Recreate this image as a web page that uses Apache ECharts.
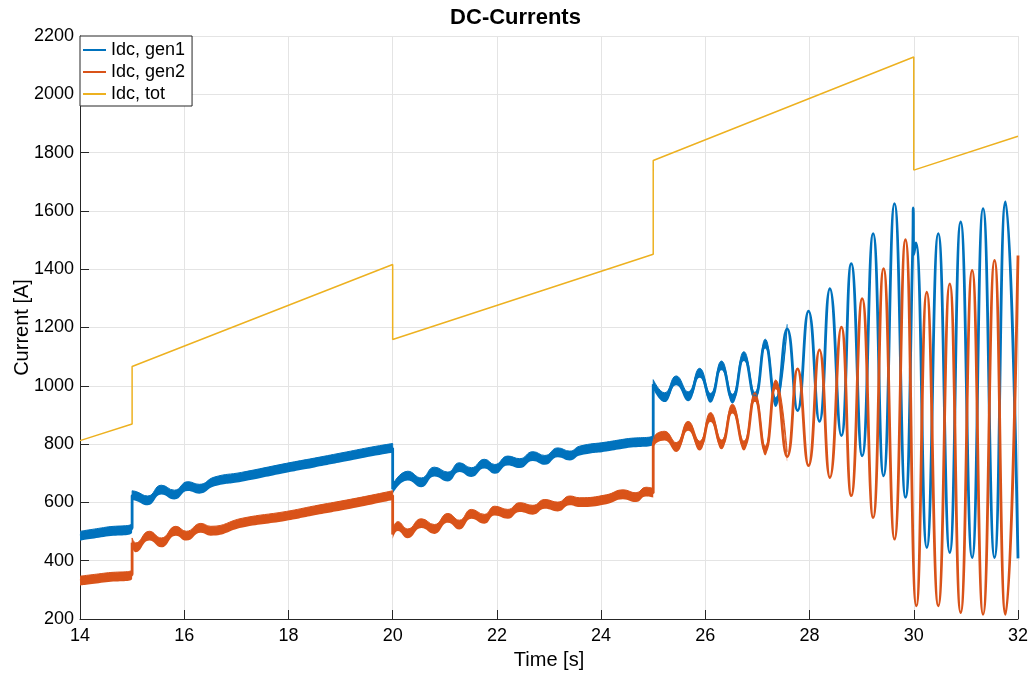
<!DOCTYPE html>
<html>
<head>
<meta charset="utf-8">
<script src="https://cdn.jsdelivr.net/npm/echarts@6/dist/echarts.min.js"></script>
<style>html,body{margin:0;padding:0;background:#fff}#c{width:1031px;height:675px}</style>
</head>
<body>
<div id="c"></div>
<script>
// ---- data (time [s], current [A]) ----
const seriesNames = ['Idc, gen1', 'Idc, gen2', 'Idc, tot'];

const gen1 = [
  [14, 485], [14.5, 499], [15, 514], [15, 624], [15.08, 621], [15.30, 606], [15.56, 643], [15.81, 626],
  [16.07, 655], [16.29, 646], [16.58, 671], [17.1, 687], [17.96, 718], [18.5, 736], [19.11, 757],
  [19.6, 774], [20, 786], [20, 645], [20.29, 691], [20.55, 668], [20.80, 705], [21.06, 688],
  [21.28, 720], [21.51, 703], [21.76, 732], [21.96, 714], [22.21, 743], [22.44, 734], [22.69, 758],
  [22.92, 745], [23.17, 771], [23.40, 760], [23.59, 777], [24.10, 791], [24.48, 802], [25, 816],
  [25, 1005], [25.22, 960], [25.44, 1018], [25.67, 963], [25.89, 1044], [26.10, 958], [26.31, 1069],
  [26.52, 955], [26.74, 1101], [26.95, 961], [27.15, 1144], [27.35, 943], [27.57, 1195], [27.77, 915],
  [27.98, 1256], [28.19, 878], [28.39, 1333], [28.61, 829], [28.80, 1419], [29.01, 760], [29.22, 1522],
  [29.42, 691], [29.63, 1625], [29.84, 617], [29.98, 1470], [29.99, 1610], [30.0, 1450], [30.04, 1490],
  [30.25, 445], [30.47, 1522], [30.69, 428], [30.90, 1562], [31.12, 411], [31.33, 1608], [31.55, 411],
  [31.76, 1631], [32.0, 408]
];

const gen2 = [
  [14, 331], [14.5, 342], [15, 354], [15, 462], [15.07, 445], [15.33, 485], [15.56, 462], [15.84, 502],
  [16.04, 485], [16.32, 512], [16.51, 502], [17.12, 530], [17.96, 553], [18.5, 572], [19.11, 592],
  [19.6, 609], [20, 624], [20, 490], [20.10, 518], [20.29, 493], [20.55, 528], [20.80, 508],
  [21.06, 546], [21.28, 523], [21.51, 560], [21.76, 543], [21.96, 571], [22.21, 560], [22.44, 583],
  [22.69, 574], [22.92, 594], [23.17, 585], [23.40, 606], [23.59, 600], [24.10, 610], [24.42, 627],
  [24.67, 617], [24.86, 636], [25, 632], [25, 795], [25.22, 828], [25.44, 789], [25.67, 862],
  [25.89, 794], [26.10, 892], [26.31, 798], [26.52, 921], [26.74, 794], [26.95, 961], [27.15, 777],
  [27.35, 1004], [27.57, 757], [27.77, 1058], [27.98, 726], [28.19, 1123], [28.39, 685], [28.61, 1201],
  [28.80, 623], [29.01, 1299], [29.22, 548], [29.42, 1402], [29.63, 474], [29.84, 1501], [30.05, 245],
  [30.25, 1321], [30.47, 245], [30.69, 1350], [30.90, 222], [31.12, 1396], [31.33, 216], [31.55, 1430],
  [31.76, 216], [32.0, 1447]
];

const tot = [
  [14, 812], [15, 869], [15, 1066], [20, 1416], [20, 1159], [25, 1451], [25, 1773],
  [30, 2128], [30, 1740], [32, 1856]
];

const xTicks = { min: 14, max: 32, interval: 2 };
const yTicks = { min: 200, max: 2200, interval: 200 };

// ---- style ----
const BLUE = '#0072BD', ORANGE = '#D95319', YELLOW = '#EDB120';
const AXIS = '#262626', GRID = '#e4e4e4';
const FONT = '"Liberation Sans", Arial, Helvetica, sans-serif';
const HALF = 16;        // half thickness of the ripple band (A)
const BAND_END = 27.6;  // band drawn up to this time
const SMOOTH = 0.5;

// band = lower edge + stacked thickness; columns [value, time] so the stack is on y
function band(data, color, id) {
  const part = data.filter(p => p[0] <= BAND_END);
  return [
    { type: 'line', name: id + '_lo', stack: id, encode: { x: 1, y: 0 },
      data: part.map(p => [p[1] - HALF, p[0]]),
      smooth: SMOOTH, showSymbol: false, silent: true, lineStyle: { width: 0, opacity: 0 } },
    { type: 'line', name: id + '_band', stack: id, encode: { x: 1, y: 0 },
      data: part.map(p => [2 * HALF, p[0]]),
      smooth: SMOOTH, showSymbol: false, silent: true, lineStyle: { width: 1, color: color },
      areaStyle: { color: color, opacity: 1 } }
  ];
}
function centre(data, color, name, w, smooth) {
  return { type: 'line', name: name, data: data, smooth: smooth, showSymbol: false,
    color: color, lineStyle: { width: w, color: color }, silent: true };
}

const chart = echarts.init(document.getElementById('c'), null, { renderer: 'canvas' });
chart.setOption({
  animation: false,
  backgroundColor: '#fff',
  textStyle: { fontFamily: FONT },
  title: {
    text: 'DC-Currents', left: 'center', top: 7, padding: 0,
    textStyle: { fontFamily: FONT, fontWeight: 'bold', fontSize: 22, color: '#000' }
  },
  legend: {
    data: seriesNames.map((n, i) => ({ name: n, itemStyle: { color: [BLUE, ORANGE, YELLOW][i] } })),
    orient: 'vertical', left: 80, top: 36,
    backgroundColor: '#fff', borderColor: AXIS, borderWidth: 1, borderRadius: 0,
    padding: [4, 7, 2, 3], itemGap: 2, itemWidth: 23, itemHeight: 2, icon: 'rect',
    textStyle: { fontFamily: FONT, fontSize: 18, color: '#000', lineHeight: 20 }
  },
  grid: { left: 80, right: 13, top: 36, bottom: 56, containLabel: false, outerBoundsMode: 'none' },
  xAxis: {
    type: 'value', min: xTicks.min, max: xTicks.max, interval: xTicks.interval,
    name: 'Time [s]', nameLocation: 'middle', nameGap: 31, nameMoveOverlap: false,
    nameTextStyle: { fontFamily: FONT, fontSize: 20, color: '#000' },
    axisLine: { show: true, onZero: false, lineStyle: { color: AXIS, width: 1 } },
    axisTick: { show: true, inside: true, length: 9, lineStyle: { color: AXIS } },
    axisLabel: { margin: 8, fontSize: 18, color: '#000', fontFamily: FONT, formatter: v => String(v) },
    splitLine: { show: true, lineStyle: { color: GRID, width: 1 } }
  },
  yAxis: {
    type: 'value', min: yTicks.min, max: yTicks.max, interval: yTicks.interval,
    name: 'Current [A]', nameLocation: 'middle', nameGap: 48, nameMoveOverlap: false,
    nameTextStyle: { fontFamily: FONT, fontSize: 20, color: '#000' },
    axisLine: { show: true, onZero: false, lineStyle: { color: AXIS, width: 1 } },
    axisTick: { show: true, inside: true, length: 9, lineStyle: { color: AXIS } },
    axisLabel: { margin: 6, fontSize: 18, color: '#000', fontFamily: FONT, formatter: v => String(v) },
    splitLine: { show: true, lineStyle: { color: GRID, width: 1 } }
  },
  series: [
    ...band(gen1, BLUE, 'g1'),
    centre(gen1, BLUE, seriesNames[0], 2.8, SMOOTH),
    ...band(gen2, ORANGE, 'g2'),
    centre(gen2, ORANGE, seriesNames[1], 2.8, SMOOTH),
    centre(tot, YELLOW, seriesNames[2], 1.5, false)
  ]
});
</script>
</body>
</html>
